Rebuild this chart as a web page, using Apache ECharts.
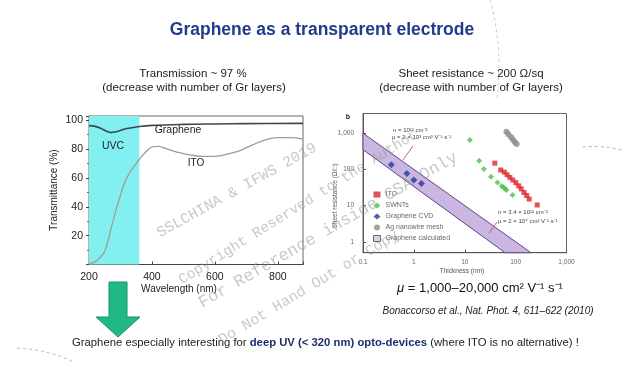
<!DOCTYPE html>
<html><head><meta charset="utf-8">
<script src="https://cdn.jsdelivr.net/npm/echarts@6/dist/echarts.min.js"></script>
<style>html,body{margin:0;padding:0;background:#fff}#c{width:630px;height:367px}</style>
</head><body><div id="c"></div>
<script>
// ---- Left chart: transmittance vs wavelength ----
const wavelength = [200,220,240,250,260,270,280,290,300,310,320,330,340,350,360,380,400,420,450,480,520,560,600,640,680,720,760,800,840,880];
const itoT       = [0.5,2,6,9,16,25,33,41,48,55,60,64,67,70,73,78,81.5,82,80,78,76,75,75,76.5,79,83,86.5,88,88,87];
const grapheneWl = [200,220,240,260,270,290,320,360,400,500,600,700,880];
const grapheneT  = [96.3,95.8,94.2,92,91.5,92.3,94.3,95.7,96.5,97.2,97.5,97.7,97.9];
const uvcBand = [200,360];
const leftXTicks = [200,400,600,800];
const leftYTicks = [20,40,60,80,100];

// ---- Right chart: sheet resistance vs thickness ----
const itoThick  = [39,51,60,68,77,88,101,115,129,146,165,185,266];
const itoRs     = [149,96,84,71,60,51,43,35,29,23,19,15.2,10.4];
const swntThick = [12.6,19.2,23.8,32.7,44,53,58,62,66,87];
const swntRs    = [645,173,102,62.5,43.6,35,32,29,27,19.5];
const cvdThick  = [0.36,0.73,1.0,1.41];
const cvdRs     = [134,77,51,41];
const agThick   = [66,72,81,88,96,105];
const agRs      = [1100,940,790,670,575,500];
const bandUpper = [[0.1,1000],[200,0.5]];
const bandLower = [[0.1,350],[62,0.5]];
const rightXTicks = ['0.1','1','10','100','1,000'];
const rightYTicks = ['1','10','100','1,000'];

const zip = (a,b) => a.map((v,i)=>[v,b[i]]);
const fmtLog = v => { const l = Math.log10(v); if (Math.abs(l-Math.round(l))>1e-6) return ''; return v>=1000 ? v.toLocaleString('en-US') : String(+v.toPrecision(6)); };
const F = 'Liberation Sans, Arial, sans-serif';
const WM = 'rgba(145,145,145,0.5)';

const chart = echarts.init(document.getElementById('c'), null, {renderer:'canvas'});
const option = {
  animation:false,
  backgroundColor:'#fff',
  grid:[
    {left:89, top:116, width:214, height:148.5, show:true, borderColor:'#666', borderWidth:1, backgroundColor:'transparent'},
    {left:363, top:113.5, width:203.5, height:139.2, show:true, borderColor:'#666', borderWidth:1, backgroundColor:'transparent'}
  ],
  xAxis:[
    {gridIndex:0, type:'value', min:200, max:880, interval:200,
     axisLine:{lineStyle:{color:'#444'}}, axisTick:{inside:true, length:3, lineStyle:{color:'#444'}},
     splitLine:{show:false},
     axisLabel:{fontSize:10.5, color:'#222', margin:7, fontFamily:F, formatter:v=>leftXTicks.includes(v)?String(v):''}},
    {gridIndex:1, type:'log', logBase:10, min:0.1, max:1000,
     axisLine:{lineStyle:{color:'#555'}}, axisTick:{inside:true, length:3, lineStyle:{color:'#555'}},
     splitLine:{show:false},
     axisLabel:{fontSize:6.5, color:'#666', margin:6, fontFamily:F, formatter:v=>{const s=fmtLog(v); return rightXTicks.includes(s)?s:'';}}}
  ],
  yAxis:[
    {gridIndex:0, type:'value', min:0, max:103, interval:20,
     axisLine:{show:true, lineStyle:{color:'#444'}}, axisTick:{show:true, length:3, lineStyle:{color:'#444'}},
     minorTick:{show:true, splitNumber:2, length:2, lineStyle:{color:'#666'}},
     splitLine:{show:false},
     axisLabel:{fontSize:10.5, color:'#222', margin:6, fontFamily:F, formatter:v=>leftYTicks.includes(v)?String(v):''}},
    {gridIndex:1, type:'log', logBase:10, min:0.5, max:3500,
     axisLine:{show:true, lineStyle:{color:'#555'}}, axisTick:{show:true, inside:true, length:3, lineStyle:{color:'#555'}},
     splitLine:{show:false},
     axisLabel:{fontSize:6.5, color:'#666', margin:9, fontFamily:F, formatter:v=>{const s=fmtLog(v); return rightYTicks.includes(s)?s:'';}}}
  ],
  legend:{
    orient:'vertical', left:373, top:191, itemWidth:7, itemHeight:6, itemGap:4, padding:0,
    textStyle:{fontSize:7, color:'#666', fontFamily:F},
    data:[
      {name:'ITO', icon:'rect'},
      {name:'SWNTs', icon:'diamond'},
      {name:'Graphene CVD', icon:'diamond'},
      {name:'Ag nanowire mesh', icon:'circle'},
      {name:'Graphene calculated', icon:'rect', itemStyle:{color:'#ddd0ec', borderColor:'#666', borderWidth:1}}
    ]
  },
  series:[
    {type:'custom', name:'UVC', xAxisIndex:0, yAxisIndex:0, z:1, silent:true, data:[[300,50]],
     renderItem:(p,api)=>{const a=api.coord([uvcBand[0],103]); const b=api.coord([uvcBand[1],0]);
       return {type:'rect', shape:{x:a[0], y:a[1], width:b[0]-a[0], height:b[1]-a[1]}, style:{fill:'#82f0f1'}};}},
    {type:'line', name:'Graphene T', xAxisIndex:0, yAxisIndex:0, z:3, data:zip(grapheneWl,grapheneT), smooth:0.4, symbol:'none',
     lineStyle:{color:'#3b4853', width:1.6}},
    {type:'line', name:'ITO T', xAxisIndex:0, yAxisIndex:0, z:3, data:zip(wavelength,itoT), smooth:0.4, symbol:'none',
     lineStyle:{color:'#a39c90', width:1.3}},
    {type:'custom', name:'Graphene calculated', xAxisIndex:1, yAxisIndex:1, z:1, silent:true, data:[[1,1]],
     itemStyle:{color:'#cdb9e3'},
     renderItem:(p,api)=>{const pts=bandUpper.concat(bandLower.slice().reverse()).map(d=>api.coord(d));
       return {type:'polygon', shape:{points:pts}, style:{fill:'#cbb6e2', stroke:'#5e4585', lineWidth:1}};}},
    {type:'scatter', name:'ITO', xAxisIndex:1, yAxisIndex:1, z:4, data:zip(itoThick,itoRs), symbol:'rect', symbolSize:5, itemStyle:{color:'#d9262b'}},
    {type:'scatter', name:'SWNTs', xAxisIndex:1, yAxisIndex:1, z:4, data:zip(swntThick,swntRs), symbol:'diamond', symbolSize:6, itemStyle:{color:'#52c050'}},
    {type:'scatter', name:'Graphene CVD', xAxisIndex:1, yAxisIndex:1, z:4, data:zip(cvdThick,cvdRs), symbol:'diamond', symbolSize:7, itemStyle:{color:'#27399a'}},
    {type:'scatter', name:'Ag nanowire mesh', xAxisIndex:1, yAxisIndex:1, z:4, data:zip(agThick,agRs), symbol:'circle', symbolSize:6, itemStyle:{color:'#8c8c8c'}}
  ],
  graphic:[
    {type:'text', x:322, y:30, z:10, style:{text:'Graphene as a transparent electrode', font:'bold 17.5px '+F, fill:'#223b8c', textAlign:'center', textVerticalAlign:'middle'}},
    {type:'text', x:193, y:74, z:10, style:{text:'Transmission ~ 97 %', font:'11.5px '+F, fill:'#1a1a1a', textAlign:'center', textVerticalAlign:'middle'}},
    {type:'text', x:194, y:88, z:10, style:{text:'(decrease with number of Gr layers)', font:'11.5px '+F, fill:'#1a1a1a', textAlign:'center', textVerticalAlign:'middle'}},
    {type:'text', x:471, y:74, z:10, style:{text:'Sheet resistance ~ 200 \u03a9/sq', font:'11.5px '+F, fill:'#1a1a1a', textAlign:'center', textVerticalAlign:'middle'}},
    {type:'text', x:471, y:88, z:10, style:{text:'(decrease with number of Gr layers)', font:'11.5px '+F, fill:'#1a1a1a', textAlign:'center', textVerticalAlign:'middle'}},
    // left chart labels
    {type:'text', x:54, y:190, rotation:Math.PI/2, z:10, style:{text:'Transmittance (%)', font:'10px '+F, fill:'#222', textAlign:'center', textVerticalAlign:'middle'}},
    {type:'text', x:179, y:289, z:10, style:{text:'Wavelength (nm)', font:'10px '+F, fill:'#222', textAlign:'center', textVerticalAlign:'middle'}},
    {type:'text', x:178, y:130, z:10, style:{text:'Graphene', font:'10.5px '+F, fill:'#222', textAlign:'center', textVerticalAlign:'middle'}},
    {type:'text', x:113, y:146, z:10, style:{text:'UVC', font:'10.5px '+F, fill:'#222', textAlign:'center', textVerticalAlign:'middle'}},
    {type:'text', x:196, y:163, z:10, style:{text:'ITO', font:'10px '+F, fill:'#222', textAlign:'center', textVerticalAlign:'middle'}},
    // right chart labels
    {type:'text', x:348, y:117, z:10, style:{text:'b', font:'bold 7px '+F, fill:'#222', textAlign:'center', textVerticalAlign:'middle'}},
    {type:'text', x:335, y:196, rotation:Math.PI/2, z:10, style:{text:'Sheet resistance (\u03a9/\u25a1)', font:'6.5px '+F, fill:'#555', textAlign:'center', textVerticalAlign:'middle'}},
    {type:'text', x:462, y:271, z:10, style:{text:'Thickness (nm)', font:'6.5px '+F, fill:'#555', textAlign:'center', textVerticalAlign:'middle'}},
    {type:'text', x:393, y:130.5, z:10, style:{text:'n = 10\u00b9\u00b2 cm\u207b\u00b2', font:'6px '+F, fill:'#444', textAlign:'left', textVerticalAlign:'middle'}},
    {type:'text', x:392, y:137.5, z:10, style:{text:'\u03bc = 2 \u00d7 10\u00b3 cm\u00b2 V\u207b\u00b9 s\u207b\u00b9', font:'6px '+F, fill:'#444', textAlign:'left', textVerticalAlign:'middle'}},
    {type:'line', z:10, shape:{x1:413, y1:146, x2:403, y2:160}, style:{stroke:'#b24848', lineWidth:0.8}},
    {type:'text', x:498, y:212.5, z:10, style:{text:'n = 3.4 \u00d7 10\u00b9\u00b2 cm\u207b\u00b2', font:'6px '+F, fill:'#444', textAlign:'left', textVerticalAlign:'middle'}},
    {type:'text', x:498, y:221, z:10, style:{text:'\u03bc = 2 \u00d7 10\u2074 cm\u00b2 V\u207b\u00b9 s\u207b\u00b9', font:'6px '+F, fill:'#444', textAlign:'left', textVerticalAlign:'middle'}},
    {type:'line', z:10, shape:{x1:497, y1:222, x2:489, y2:233}, style:{stroke:'#b24848', lineWidth:0.8}},
    {type:'text', x:480, y:288, z:10, style:{text:'{i|\u03bc} = 1,000\u201320,000 cm\u00b2 V\u207b\u00b9 s\u207b\u00b9', font:'13px '+F, fill:'#111', textAlign:'center', textVerticalAlign:'middle',
      rich:{i:{fontStyle:'italic', fontSize:13, fontFamily:F, fill:'#111'}}}},
    {type:'text', x:488, y:311, z:10, style:{text:'Bonaccorso et al., Nat. Phot. 4, 611\u2013622 (2010)', font:'italic 10px '+F, fill:'#222', textAlign:'center', textVerticalAlign:'middle'}},
    // arrow
    {type:'polygon', z:10, shape:{points:[[109,282],[127,282],[127,317],[140,317],[118,337],[96,317],[109,317]]}, style:{fill:'#21b886', stroke:'#17946a', lineWidth:1}},
    // bottom text
    {type:'text', x:72, y:343, z:10, style:{text:'{n|Graphene especially interesting for }{b|deep UV (< 320 nm) opto-devices}{n| (where ITO is no alternative) !}', textAlign:'left', textVerticalAlign:'middle',
      rich:{n:{fontSize:11.3, fontFamily:F, fill:'#222'}, b:{fontSize:11.3, fontFamily:F, fontWeight:'bold', fill:'#1e2f6e'}}}},
    // decorative dashed arcs
    {type:'bezierCurve', z:9, shape:{x1:490, y1:0, cpx1:503, cpy1:45, x2:497, y2:100}, style:{stroke:'#c8c8c8', lineWidth:1, lineDash:[3,3], fill:null}},
    {type:'bezierCurve', z:9, shape:{x1:583, y1:147, cpx1:600, cpy1:145, x2:622, y2:150}, style:{stroke:'#b4b4b4', lineWidth:1, lineDash:[3,3], fill:null}},
    {type:'bezierCurve', z:9, shape:{x1:17, y1:348, cpx1:50, cpy1:350, x2:73, y2:362}, style:{stroke:'#bcbcbc', lineWidth:1, lineDash:[3,3], fill:null}},
    // watermark
    {type:'text', x:158, y:234, rotation:29*Math.PI/180, z:20, silent:true, style:{text:'SSLCHINA & IFWS 2019', font:'15px Liberation Mono, monospace', fill:WM, textAlign:'left', textVerticalAlign:'middle'}},
    {type:'text', x:180, y:281, rotation:32*Math.PI/180, z:20, silent:true, style:{text:'Copyright Reserved to the Author', font:'14.5px Liberation Mono, monospace', fill:WM, textAlign:'left', textVerticalAlign:'middle'}},
    {type:'text', x:200, y:304, rotation:30*Math.PI/180, z:20, silent:true, style:{text:'For Reference inside CSA Only', font:'17px Liberation Mono, monospace', fill:WM, textAlign:'left', textVerticalAlign:'middle'}},
    {type:'text', x:220, y:341, rotation:31*Math.PI/180, z:20, silent:true, style:{text:'Do Not Hand Out or Copy', font:'15px Liberation Mono, monospace', fill:WM, textAlign:'left', textVerticalAlign:'middle'}}
  ]
};
chart.setOption(option);
</script></body></html>
